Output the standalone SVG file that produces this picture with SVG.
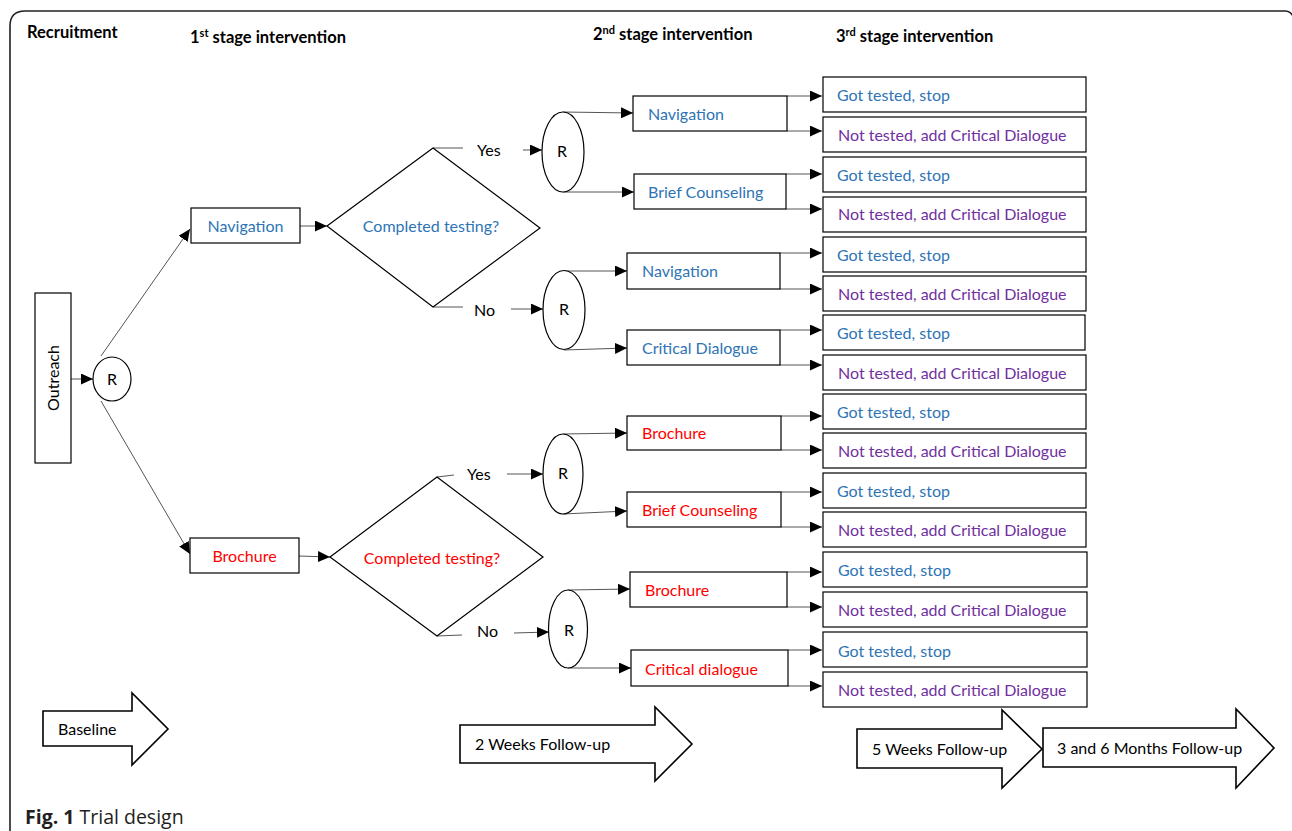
<svg xmlns="http://www.w3.org/2000/svg" width="1292" height="831" viewBox="0 0 1292 831">
<style>
text{font-family:Lato,"Liberation Sans",sans-serif;font-size:16px;fill:#000}
.h{font-weight:bold;font-size:16.5px}
.b{fill:#2e74b5}
.r{fill:#ff0000}
.p{fill:#7030a0}
.box{fill:#fff;stroke:#000;stroke-width:1.2}
.c{fill:none;stroke:#555;stroke-width:1}
.ca{fill:none;stroke:#555;stroke-width:1;marker-end:url(#ah)}
.big{fill:#fff;stroke:#000;stroke-width:1.6}
.cap{font-family:"Open Sans","Liberation Sans",sans-serif;font-size:19.5px;fill:#231f20}
</style>
<defs>
<marker id="ah" markerUnits="userSpaceOnUse" markerWidth="13" markerHeight="11" refX="12" refY="5.5" orient="auto"><path d="M0,0 L12,5.5 L0,11 z" fill="#000"/></marker>
</defs>
<rect width="1292" height="831" fill="#fff"/>
<path d="M10,831 V26 Q10,11 25,11 H1285 Q1291,11 1294,18" fill="none" stroke="#231f20" stroke-width="1.6"/>
<g id="headers">
<text class="h" x="27" y="38">Recruitment</text>
<text class="h" x="190" y="43">1<tspan font-size="11" dy="-6">st</tspan><tspan dy="6"> stage intervention</tspan></text>
<text class="h" x="593" y="40">2<tspan font-size="11" dy="-6">nd</tspan><tspan dy="6"> stage intervention</tspan></text>
<text class="h" x="836" y="42">3<tspan font-size="11" dy="-6">rd</tspan><tspan dy="6"> stage intervention</tspan></text>
</g>
<g id="connectors">
<line class="ca" x1="71" y1="379" x2="93" y2="379"/>
<line class="ca" x1="101" y1="356" x2="190" y2="229"/>
<line class="ca" x1="101" y1="401" x2="190" y2="554"/>
<line class="ca" x1="300" y1="226" x2="327" y2="226"/>
<line class="ca" x1="299" y1="556" x2="330" y2="557"/>
<line class="c" x1="433" y1="148" x2="463" y2="148"/>
<line class="ca" x1="523" y1="150" x2="542" y2="150"/>
<line class="c" x1="433" y1="307" x2="463" y2="307"/>
<line class="ca" x1="511" y1="309" x2="543" y2="309"/>
<line class="c" x1="437" y1="477" x2="454" y2="475"/>
<line class="ca" x1="507" y1="474" x2="543" y2="474"/>
<line class="c" x1="437" y1="636" x2="462" y2="635"/>
<line class="ca" x1="514" y1="633" x2="549" y2="632"/>
<line class="ca" x1="563" y1="112" x2="633" y2="113"/>
<line class="ca" x1="563" y1="192" x2="634" y2="192"/>
<line class="ca" x1="564" y1="271" x2="627" y2="271"/>
<line class="ca" x1="564" y1="350" x2="627" y2="348"/>
<line class="ca" x1="563" y1="434" x2="627" y2="433"/>
<line class="ca" x1="563" y1="514" x2="627" y2="511"/>
<line class="ca" x1="568" y1="590" x2="630" y2="589"/>
<line class="ca" x1="568" y1="668" x2="631" y2="668"/>
<line class="ca" x1="787" y1="96" x2="822" y2="96"/>
<line class="ca" x1="787" y1="131" x2="822" y2="131"/>
<line class="ca" x1="786" y1="174" x2="822" y2="174"/>
<line class="ca" x1="786" y1="209" x2="822" y2="209"/>
<line class="ca" x1="780" y1="253" x2="822" y2="253"/>
<line class="ca" x1="780" y1="289" x2="822" y2="289"/>
<line class="ca" x1="780" y1="330" x2="822" y2="330"/>
<line class="ca" x1="780" y1="365" x2="822" y2="365"/>
<line class="ca" x1="781" y1="416" x2="822" y2="416"/>
<line class="ca" x1="781" y1="450" x2="822" y2="450"/>
<line class="ca" x1="781" y1="492" x2="822" y2="492"/>
<line class="ca" x1="781" y1="527" x2="822" y2="527"/>
<line class="ca" x1="787" y1="572" x2="822" y2="572"/>
<line class="ca" x1="787" y1="607" x2="822" y2="607"/>
<line class="ca" x1="788" y1="650" x2="822" y2="650"/>
<line class="ca" x1="788" y1="686" x2="822" y2="686"/>
</g>
<g id="outreach"><rect class="box" x="35" y="293" width="36" height="170"/><text transform="translate(58.5,378) rotate(-90)" text-anchor="middle">Outreach</text></g>
<g id="r1"><ellipse class="box" cx="112" cy="379" rx="19" ry="22"/><text x="112" y="385" text-anchor="middle">R</text></g>
<g id="nav1"><rect class="box" x="191" y="208" width="109" height="35"/><text class="b" x="245.5" y="231.5" text-anchor="middle">Navigation</text></g>
<g id="bro1"><rect class="box" x="190" y="538" width="109" height="35"/><text class="r" x="244.5" y="561.5" text-anchor="middle">Brochure</text></g>
<g id="dia1"><polygon class="box" points="327,226 433,148 540,228 433,307"/><text class="b" x="431" y="231.5" text-anchor="middle">Completed testing?</text></g>
<g id="dia2"><polygon class="box" points="330,557 437,477 543,557 437,636"/><text class="r" x="432" y="564" text-anchor="middle">Completed testing?</text></g>
<g id="labels">
<text x="477" y="155.5">Yes</text>
<text x="474" y="315.5">No</text>
<text x="467" y="479.5">Yes</text>
<text x="477" y="636.5">No</text>
</g>
<g id="r2"><ellipse class="box" cx="563" cy="152" rx="21" ry="40"/><text x="562" y="157" text-anchor="middle">R</text></g>
<g id="r3"><ellipse class="box" cx="564" cy="310" rx="21" ry="39.5"/><text x="564" y="315" text-anchor="middle">R</text></g>
<g id="r4"><ellipse class="box" cx="563" cy="474" rx="20" ry="40"/><text x="563" y="479" text-anchor="middle">R</text></g>
<g id="r5"><ellipse class="box" cx="568" cy="629" rx="19.5" ry="39"/><text x="569" y="636" text-anchor="middle">R</text></g>
<g id="s2a"><rect class="box" x="633" y="96" width="154" height="35"/><text class="b" x="648" y="119.5">Navigation</text></g>
<g id="s2b"><rect class="box" x="634" y="174" width="152" height="35"/><text class="b" x="648" y="197.5">Brief Counseling</text></g>
<g id="s2c"><rect class="box" x="627" y="253" width="153" height="36"/><text class="b" x="642" y="276.5">Navigation</text></g>
<g id="s2d"><rect class="box" x="627" y="330" width="153" height="35"/><text class="b" x="642" y="353.5">Critical Dialogue</text></g>
<g id="s2e"><rect class="box" x="627" y="416" width="154" height="34"/><text class="r" x="642" y="438.5">Brochure</text></g>
<g id="s2f"><rect class="box" x="627" y="492" width="154" height="35"/><text class="r" x="642" y="515.5">Brief Counseling</text></g>
<g id="s2g"><rect class="box" x="630" y="572" width="157" height="35"/><text class="r" x="645" y="595.5">Brochure</text></g>
<g id="s2h"><rect class="box" x="631" y="650" width="157" height="36"/><text class="r" x="645" y="674.5">Critical dialogue</text></g>
<g id="t1"><rect class="box" x="823" y="77" width="263" height="35"/><text class="b" x="837" y="100.5">Got tested, stop</text></g>
<g id="t2"><rect class="box" x="823" y="117" width="263" height="35"/><text class="p" x="838" y="140.5">Not tested, add Critical Dialogue</text></g>
<g id="t3"><rect class="box" x="823" y="157" width="263" height="35"/><text class="b" x="837" y="180.5">Got tested, stop</text></g>
<g id="t4"><rect class="box" x="823" y="197" width="263" height="35"/><text class="p" x="838" y="219.5">Not tested, add Critical Dialogue</text></g>
<g id="t5"><rect class="box" x="823" y="237" width="263" height="35"/><text class="b" x="837" y="260.5">Got tested, stop</text></g>
<g id="t6"><rect class="box" x="823" y="276" width="263" height="35"/><text class="p" x="838" y="299.5">Not tested, add Critical Dialogue</text></g>
<g id="t7"><rect class="box" x="823" y="315" width="262" height="35"/><text class="b" x="837" y="338.5">Got tested, stop</text></g>
<g id="t8"><rect class="box" x="823" y="355" width="263" height="35"/><text class="p" x="838" y="378.5">Not tested, add Critical Dialogue</text></g>
<g id="t9"><rect class="box" x="823" y="394" width="263" height="35"/><text class="b" x="837" y="417.5">Got tested, stop</text></g>
<g id="t10"><rect class="box" x="823" y="433" width="263" height="35"/><text class="p" x="838" y="456.5">Not tested, add Critical Dialogue</text></g>
<g id="t11"><rect class="box" x="823" y="473" width="263" height="35"/><text class="b" x="837" y="496.5">Got tested, stop</text></g>
<g id="t12"><rect class="box" x="823" y="512" width="263" height="35"/><text class="p" x="838" y="535.5">Not tested, add Critical Dialogue</text></g>
<g id="t13"><rect class="box" x="823" y="552" width="264" height="35"/><text class="b" x="838" y="575.5">Got tested, stop</text></g>
<g id="t14"><rect class="box" x="823" y="592" width="264" height="35"/><text class="p" x="838" y="615.5">Not tested, add Critical Dialogue</text></g>
<g id="t15"><rect class="box" x="823" y="632" width="264" height="35"/><text class="b" x="838" y="656.5">Got tested, stop</text></g>
<g id="t16"><rect class="box" x="823" y="672" width="264" height="35"/><text class="p" x="838" y="695.5">Not tested, add Critical Dialogue</text></g>
<g id="baseline"><polygon class="big" points="43,711 132,711 132,693 168,729 132,765 132,746 43,746"/><text x="58" y="734.5">Baseline</text></g>
<g id="w2"><polygon class="big" points="460,725 655,725 655,707 692,744 655,781 655,763 460,763"/><text x="475" y="749.5">2 Weeks Follow-up</text></g>
<g id="w5"><polygon class="big" points="857,729 1002,729 1002,710 1042,749 1002,788 1002,768 857,768"/><text x="872" y="754.5">5 Weeks Follow-up</text></g>
<g id="m36"><polygon class="big" points="1043,728 1236,728 1236,709 1274,748 1236,788 1236,767 1043,767"/><text x="1057" y="753.5">3 and 6 Months Follow-up</text></g>
<text class="cap" x="25" y="824"><tspan font-weight="bold">Fig. 1</tspan> Trial design</text>
</svg>
